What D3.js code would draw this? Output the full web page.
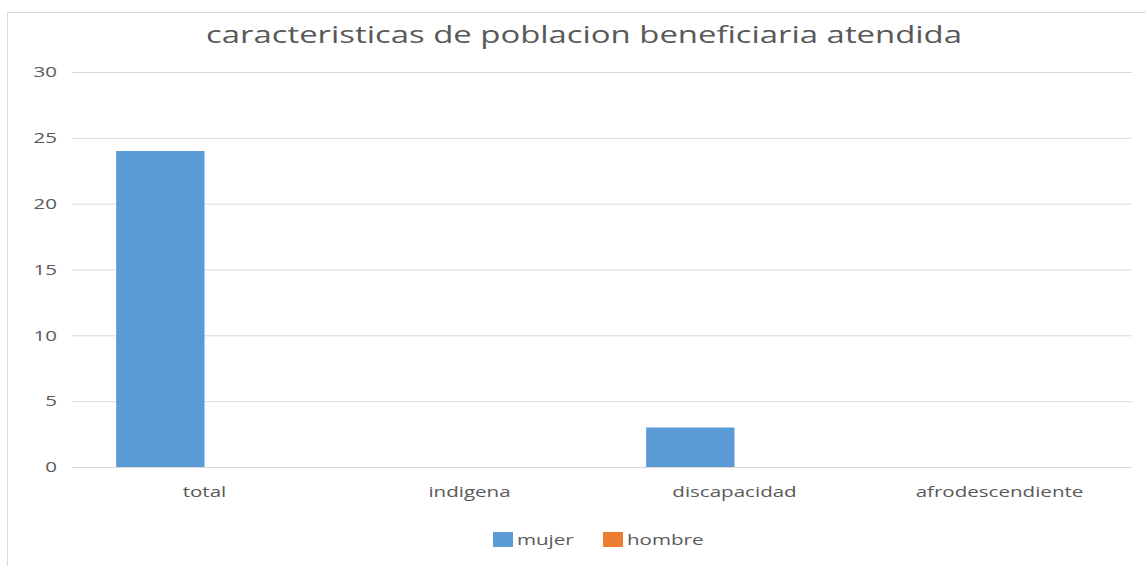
<!DOCTYPE html>
<html><head><meta charset="utf-8">
<script src="https://cdn.jsdelivr.net/npm/d3@7"></script>
<style>body{margin:0;background:#fff;} text{font-family:"Open Sans",sans-serif;}</style>
</head><body><svg id="c" width="1146" height="566"></svg>
<script>
const title = "caracteristicas de poblacion beneficiaria atendida";
const categories = ["total","indigena","discapacidad","afrodescendiente"];
const seriesNames = ["mujer","hombre"];
const mujer = [24,0,3,0];
const hombre = [0,0,0,0];
const yTicks = [0,5,10,15,20,25,30];
const colors = ["#5B9BD5","#ED7D31"];

const SX = 1.37; // horizontal stretch of the reference text
function stretch(sel){
  sel.each(function(){
    const t = d3.select(this);
    const bb = this.getBBox();
    const anchor = t.attr("text-anchor") || getComputedStyle(this).textAnchor || "start";
    let ax = bb.x;
    if (anchor === "middle") ax = bb.x + bb.width/2;
    else if (anchor === "end") ax = bb.x + bb.width;
    const prev = t.attr("transform") || "";
    t.attr("transform", prev + ` translate(${ax},0) scale(${SX},1) translate(${-ax},0)`);
  });
}

const svg = d3.select("#c");
svg.append("rect").attr("x",7.5).attr("y",12.5).attr("width",1150).attr("height",600)
  .attr("fill","#fff").attr("stroke","#d9d9d9");

const pL=72, pR=1132, pT=72, pB=467;
const x = d3.scaleBand().domain(categories).range([pL,pR]);
const y = d3.scaleLinear().domain([0,30]).range([pB,pT]);
const barW = x.bandwidth()/3;
const x1 = d3.scaleBand().domain(seriesNames).range([0, barW*2]);

svg.append("text").attr("x",584).attr("y",43).attr("text-anchor","middle")
  .attr("font-size",24).attr("fill","#595959").text(title).call(stretch);

const yAxis = d3.axisLeft(y).tickValues(yTicks).tickSize(-(pR-pL)).tickPadding(15);
const gy = svg.append("g").attr("transform",`translate(${pL},0)`).call(yAxis);
gy.select(".domain").remove();
gy.selectAll("line").attr("stroke","#d9d9d9");
gy.selectAll("text").attr("font-size",15).attr("fill","#595959").attr("font-family","Open Sans").call(stretch);

const data = [mujer, hombre];
seriesNames.forEach((s,i)=>{
  svg.append("g").selectAll("rect").data(categories).join("rect")
    .attr("x",c=>x(c)+barW/2+x1(s))
    .attr("y",(c,j)=>y(data[i][j]))
    .attr("width",x1.bandwidth())
    .attr("height",(c,j)=>y(0)-y(data[i][j]))
    .attr("fill",colors[i]);
});

const xAxis = d3.axisBottom(x).tickSize(0).tickPadding(19);
const gx = svg.append("g").attr("transform",`translate(0,${pB})`).call(xAxis);
gx.select(".domain").remove();
gx.selectAll("text").attr("font-size",15).attr("fill","#595959").attr("font-family","Open Sans").call(stretch);

const leg = svg.append("g");
const legX = [493,603];
seriesNames.forEach((s,i)=>{
  leg.append("rect").attr("x",legX[i]).attr("y",532).attr("width",20).attr("height",15).attr("fill",colors[i]);
  leg.append("text").attr("x",legX[i]+24).attr("y",545).attr("font-size",15).attr("fill","#595959").text(s).call(stretch);
});
</script></body></html>
